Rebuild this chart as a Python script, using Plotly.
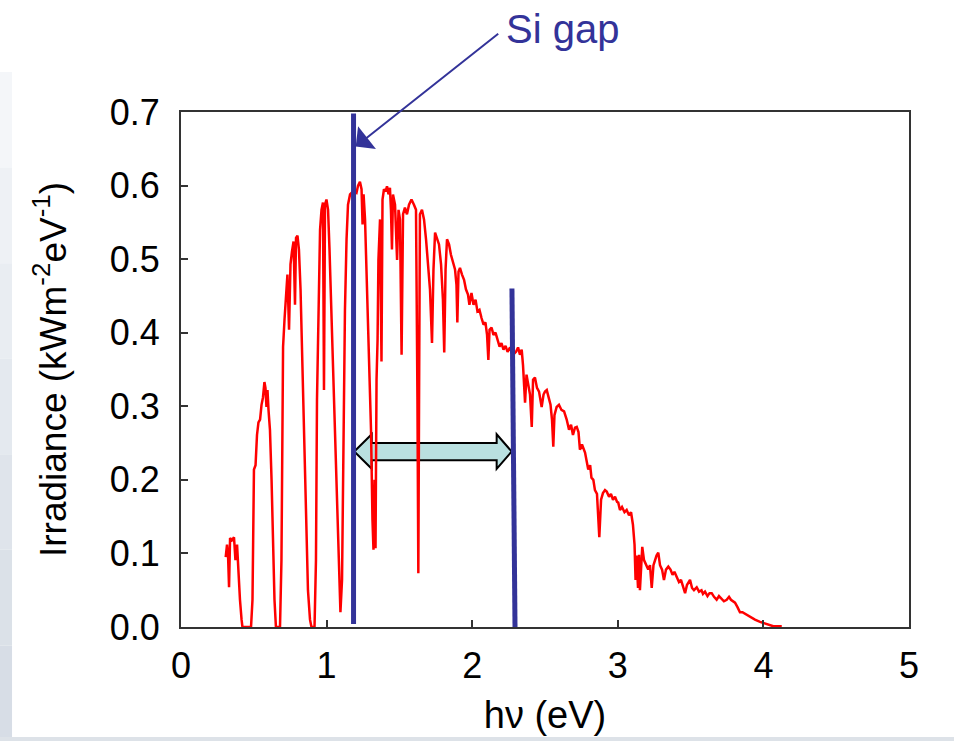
import plotly.graph_objects as go

# ---- data (photon energy in eV, irradiance in kW m^-2 eV^-1) ----
energy_ev = [
    0.307, 0.316, 0.323, 0.330, 0.337, 0.350, 0.364, 0.374, 0.385, 0.395,
    0.405, 0.416, 0.422, 0.433, 0.481, 0.491, 0.501, 0.512, 0.522, 0.532,
    0.543, 0.553, 0.563, 0.573, 0.580, 0.587, 0.594, 0.601, 0.611, 0.622,
    0.632, 0.642, 0.652, 0.680, 0.690, 0.701, 0.711, 0.721, 0.731, 0.742,
    0.752, 0.762, 0.773, 0.783, 0.790, 0.800, 0.810, 0.821, 0.831, 0.841,
    0.852, 0.862, 0.872, 0.886, 0.896, 0.917, 0.927, 0.934, 0.944, 0.955,
    0.965, 0.975, 0.982, 0.989, 0.999, 1.010, 1.020, 1.030, 1.041, 1.051,
    1.061, 1.071, 1.082, 1.095, 1.106, 1.116, 1.126, 1.137, 1.147, 1.161,
    1.181, 1.205, 1.216, 1.229, 1.240, 1.247, 1.254, 1.264, 1.274, 1.284,
    1.295, 1.305, 1.315, 1.322, 1.329, 1.336, 1.343, 1.350, 1.356, 1.367,
    1.377, 1.384, 1.394, 1.405, 1.415, 1.425, 1.435, 1.442, 1.449, 1.456,
    1.470, 1.484, 1.494, 1.504, 1.515, 1.525, 1.538, 1.552, 1.566, 1.583,
    1.600, 1.614, 1.624, 1.630, 1.635, 1.641, 1.655, 1.669, 1.683, 1.696,
    1.710, 1.724, 1.734, 1.745, 1.758, 1.772, 1.786, 1.799, 1.808, 1.817,
    1.827, 1.841, 1.854, 1.868, 1.882, 1.892, 1.898, 1.906, 1.916, 1.930,
    1.944, 1.957, 1.971, 1.981, 1.995, 2.009, 2.023, 2.036, 2.050, 2.064,
    2.078, 2.091, 2.102, 2.111, 2.119, 2.133, 2.146, 2.160, 2.174, 2.188,
    2.201, 2.215, 2.229, 2.243, 2.260, 2.280, 2.301, 2.315, 2.328, 2.340,
    2.349, 2.363, 2.373, 2.383, 2.397, 2.409, 2.418, 2.431, 2.445, 2.459,
    2.477, 2.490, 2.500, 2.512, 2.524, 2.538, 2.548, 2.557, 2.565, 2.580,
    2.596, 2.613, 2.631, 2.649, 2.665, 2.679, 2.692, 2.706, 2.718, 2.730,
    2.740, 2.754, 2.775, 2.789, 2.797, 2.810, 2.819, 2.832, 2.843, 2.857,
    2.873, 2.885, 2.898, 2.912, 2.924, 2.940, 2.953, 2.967, 2.981, 2.995,
    3.003, 3.015, 3.029, 3.046, 3.061, 3.077, 3.091, 3.104, 3.115, 3.122,
    3.128, 3.139, 3.146, 3.152, 3.168, 3.180, 3.194, 3.209, 3.221, 3.233,
    3.245, 3.255, 3.266, 3.278, 3.290, 3.304, 3.317, 3.331, 3.347, 3.362,
    3.376, 3.389, 3.405, 3.420, 3.434, 3.448, 3.462, 3.475, 3.496, 3.510,
    3.523, 3.542, 3.558, 3.575, 3.585, 3.599, 3.616, 3.630, 3.645, 3.661,
    3.679, 3.695, 3.712, 3.729, 3.748, 3.764, 3.777, 3.791, 3.805, 3.822,
    3.839, 3.856, 3.874, 3.894, 3.920, 3.942, 3.977, 4.023, 4.068, 4.126,
]
irradiance = [
    0.095, 0.112, 0.098, 0.054, 0.121, 0.118, 0.122, 0.091, 0.112, 0.064,
    0.037, 0.010, 0.000, 0.000, 0.000, 0.037, 0.214, 0.220, 0.261, 0.278,
    0.282, 0.302, 0.312, 0.333, 0.325, 0.299, 0.322, 0.295, 0.268, 0.200,
    0.118, 0.037, 0.000, 0.000, 0.091, 0.381, 0.418, 0.459, 0.479, 0.404,
    0.493, 0.510, 0.524, 0.438, 0.529, 0.532, 0.513, 0.459, 0.384, 0.309,
    0.214, 0.118, 0.050, 0.010, 0.000, 0.000, 0.091, 0.309, 0.445, 0.540,
    0.567, 0.577, 0.322, 0.574, 0.581, 0.567, 0.513, 0.445, 0.370, 0.316,
    0.254, 0.173, 0.091, 0.020, 0.064, 0.309, 0.431, 0.527, 0.574, 0.588,
    0.592, 0.590, 0.600, 0.605, 0.595, 0.547, 0.588, 0.554, 0.486, 0.418,
    0.356, 0.268, 0.146, 0.105, 0.200, 0.107, 0.336, 0.390, 0.499, 0.554,
    0.361, 0.581, 0.595, 0.592, 0.599, 0.588, 0.597, 0.567, 0.513, 0.588,
    0.574, 0.499, 0.567, 0.554, 0.370, 0.561, 0.570, 0.561, 0.574, 0.581,
    0.574, 0.567, 0.309, 0.073, 0.309, 0.561, 0.567, 0.554, 0.527, 0.499,
    0.459, 0.386, 0.486, 0.536, 0.529, 0.520, 0.493, 0.445, 0.373, 0.486,
    0.527, 0.520, 0.506, 0.495, 0.486, 0.465, 0.414, 0.483, 0.488, 0.479,
    0.472, 0.459, 0.452, 0.438, 0.454, 0.438, 0.445, 0.429, 0.431, 0.420,
    0.411, 0.414, 0.397, 0.363, 0.404, 0.407, 0.397, 0.400, 0.390, 0.381,
    0.386, 0.377, 0.382, 0.374, 0.380, 0.370, 0.374, 0.380, 0.370, 0.377,
    0.356, 0.305, 0.343, 0.329, 0.316, 0.272, 0.336, 0.339, 0.325, 0.320,
    0.299, 0.316, 0.320, 0.322, 0.312, 0.302, 0.282, 0.245, 0.288, 0.299,
    0.302, 0.295, 0.293, 0.282, 0.268, 0.275, 0.261, 0.271, 0.272, 0.265,
    0.241, 0.248, 0.237, 0.224, 0.214, 0.220, 0.203, 0.200, 0.186, 0.181,
    0.122, 0.173, 0.182, 0.186, 0.184, 0.177, 0.181, 0.173, 0.177, 0.170,
    0.169, 0.159, 0.163, 0.156, 0.159, 0.152, 0.156, 0.139, 0.112, 0.064,
    0.097, 0.053, 0.098, 0.050, 0.109, 0.091, 0.084, 0.078, 0.084, 0.053,
    0.084, 0.091, 0.097, 0.101, 0.084, 0.078, 0.064, 0.078, 0.082, 0.078,
    0.071, 0.075, 0.067, 0.061, 0.064, 0.053, 0.046, 0.057, 0.064, 0.053,
    0.050, 0.054, 0.048, 0.050, 0.045, 0.048, 0.042, 0.046, 0.046, 0.041,
    0.037, 0.042, 0.039, 0.035, 0.037, 0.041, 0.037, 0.035, 0.033, 0.027,
    0.020, 0.020, 0.018, 0.015, 0.012, 0.010, 0.007, 0.004, 0.001, 0.001,
]
assert len(energy_ev) == len(irradiance)

x_ticks = [0, 1, 2, 3, 4, 5]
x_tick_labels = ["0", "1", "2", "3", "4", "5"]
y_ticks = [0.0, 0.1, 0.2, 0.3, 0.4, 0.5, 0.6, 0.7]
y_tick_labels = ["0.0", "0.1", "0.2", "0.3", "0.4", "0.5", "0.6", "0.7"]

# Si band gap marker and the "useful" window marker
si_gap_ev = 1.185
si_gap_top = 0.698
window_line_top = (2.273, 0.46)
window_line_bottom = (2.294, 0.0)
arrow_y = 0.2385
arrow_left, arrow_right = 1.190, 2.271
arrow_head_len = 0.120
arrow_head_len_r = 0.103
arrow_body_half = 0.0117
arrow_head_half = 0.0235

FONT = "Liberation Sans, Arial, Helvetica, sans-serif"
BLUE = "#333399"

fig = go.Figure()
fig.add_trace(go.Scatter(
    x=energy_ev, y=irradiance, mode="lines",
    line=dict(color="#ff0000", width=2.5),
    hoverinfo="skip", showlegend=False,
))

# double-headed arrow (polygon, data coordinates)
lx, rx = arrow_left, arrow_right
lb, rb = lx + arrow_head_len, rx - arrow_head_len_r
yc = arrow_y
path = (
    f"M{lx},{yc} L{lb},{yc + arrow_head_half} L{lb},{yc + arrow_body_half} "
    f"L{rb},{yc + arrow_body_half} L{rb},{yc + arrow_head_half} L{rx},{yc} "
    f"L{rb},{yc - arrow_head_half} L{rb},{yc - arrow_body_half} "
    f"L{lb},{yc - arrow_body_half} L{lb},{yc - arrow_head_half} Z"
)

# slide background: thin vertical strip on the left, light at top, darker at bottom
strip_colors = ["#f4f6f9", "#eef1f5", "#e9edf2", "#e4e9ef", "#dfe4eb", "#dbe1e8", "#d7dde6"]
strip_top, strip_bottom = 1.0777, -0.2214
n = len(strip_colors)
shapes = []
for i, c in enumerate(strip_colors):
    y1 = strip_top - (strip_top - strip_bottom) * i / n
    y0 = strip_top - (strip_top - strip_bottom) * (i + 1) / n
    shapes.append(dict(type="rect", xref="paper", yref="paper", x0=-0.2486, x1=-0.2321,
                       y0=y0, y1=y1, fillcolor=c, line=dict(width=0), layer="below"))
shapes += [
    dict(type="rect", xref="paper", yref="paper", x0=-0.2486, x1=1.062,
         y0=-0.2214, y1=-0.2136, fillcolor="#dde2e8", line=dict(width=0), layer="below"),
    dict(type="path", xref="x", yref="y", path=path, fillcolor="#b9e0e0",
         line=dict(color="#000000", width=2), layer="below"),
    dict(type="line", xref="x", yref="y", x0=si_gap_ev, x1=si_gap_ev,
         y0=0.004, y1=si_gap_top, line=dict(color=BLUE, width=5)),
    dict(type="line", xref="x", yref="y", x0=window_line_top[0], x1=window_line_bottom[0],
         y0=window_line_top[1], y1=window_line_bottom[1], line=dict(color=BLUE, width=5)),
]

annotations = [
    dict(x=1.20, y=0.653, xref="x", yref="y", text="", showarrow=True,
         ax=144, ay=-114, axref="pixel", ayref="pixel",
         arrowhead=1, arrowsize=2.4, arrowwidth=2, arrowcolor=BLUE),
    dict(x=0.5247, y=1.162, xref="paper", yref="paper", text="Si gap", showarrow=False,
         xanchor="center", yanchor="middle",
         font=dict(family=FONT, size=40, color=BLUE)),
]

fig.update_layout(
    width=954, height=741,
    margin=dict(l=181, r=45, t=112, b=114),
    paper_bgcolor="white", plot_bgcolor="white",
    shapes=shapes, annotations=annotations,
    font=dict(family=FONT, color="black"),
    showlegend=False,
)
fig.update_xaxes(
    range=[0, 5], tickvals=x_ticks, ticktext=x_tick_labels,
    ticks="inside", ticklen=7, tickwidth=1.5, tickcolor="#333",
    showline=True, mirror=True, linecolor="#333", linewidth=1.8,
    showgrid=False, zeroline=False,
    tickfont=dict(family=FONT, size=36), ticklabelstandoff=6,
    title=dict(text="hν (eV)", font=dict(family=FONT, size=38), standoff=16),
)
fig.update_yaxes(
    range=[0, 0.7], tickvals=y_ticks, ticktext=y_tick_labels,
    ticks="inside", ticklen=7, tickwidth=1.5, tickcolor="#333",
    showline=True, mirror=True, linecolor="#333", linewidth=1.8,
    showgrid=False, zeroline=False,
    tickfont=dict(family=FONT, size=36), ticklabelstandoff=12,
    title=dict(text="Irradiance (kWm<sup>-2</sup>eV<sup>-1</sup>)",
               font=dict(family=FONT, size=37), standoff=32),
)

fig.write_html("out.html")
